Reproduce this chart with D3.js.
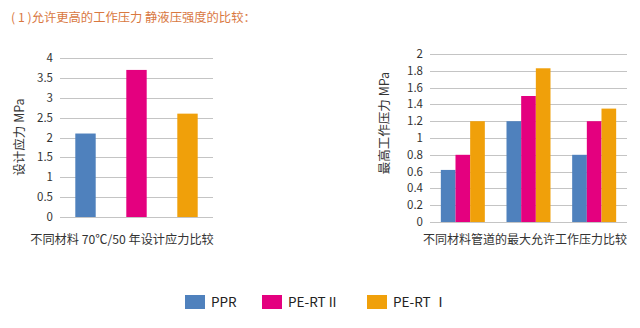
<!DOCTYPE html>
<html>
<head>
<meta charset="utf-8">
<script src="https://cdn.jsdelivr.net/npm/d3@7"></script>
<style>
  html, body { margin: 0; padding: 0; background: #fff; }
  svg { display: block; }
  text { font-family: "Noto Sans CJK SC", "DejaVu Sans", sans-serif; }
</style>
</head>
<body>
<svg id="chart" width="640" height="328"></svg>
<script>
// Series names and colours
const seriesNames = ["PPR", "PE-RT II", "PE-RT Ⅰ"];
const seriesColors = ["#4f81bd", "#e4007f", "#f0a00a"];

// Left chart: design stress at 70°C / 50 years (MPa)
const stressValues = [2.1, 3.7, 2.6];
const stressTicks = [0, 0.5, 1, 1.5, 2, 2.5, 3, 3.5, 4];

// Right chart: maximum allowed working pressure (MPa), three pipe groups
const pressureGroups = ["g1", "g2", "g3"];
const pressurePPR = [0.62, 1.2, 0.8];
const pressurePERT2 = [0.8, 1.5, 1.2];
const pressurePERT1 = [1.2, 1.83, 1.35];
const pressureTicks = [0, 0.2, 0.4, 0.6, 0.8, 1, 1.2, 1.4, 1.6, 1.8, 2];

const svg = d3.select("#chart");

// Heading
svg.append("text")
  .attr("x", 11).attr("y", 22)
  .attr("font-size", 12.3)
  .attr("fill", "#d9783f")
  .attr("xml:space", "preserve")
  .style("white-space", "pre")
  .text("( 1 )允许更高的工作压力 静液压强度的比较：");

function gridAxis(g, y, ticks, x0, x1, fmt) {
  g.selectAll("line.grid").data(ticks).join("line")
    .attr("class", "grid")
    .attr("x1", x0).attr("x2", x1)
    .attr("y1", d => Math.round(y(d)) + 0.5).attr("y2", d => Math.round(y(d)) + 0.5)
    .attr("stroke", "#c4c4c4").attr("stroke-width", 1);
  g.selectAll("text.tick").data(ticks).join("text")
    .attr("class", "tick")
    .attr("x", x0 - 7).attr("y", d => y(d))
    .attr("dy", "0.35em")
    .attr("text-anchor", "end")
    .attr("font-size", 11.5)
    .attr("fill", "#333")
    .attr("font-family", "Liberation Sans, Arial, sans-serif")
    .text(fmt);
}

// ---- Left chart ----
{
  const g = svg.append("g");
  const x = d3.scaleBand().domain(seriesNames).range([60, 213]).paddingInner(0.6).paddingOuter(0.3);
  const y = d3.scaleLinear().domain([0, 4]).range([217, 58]);
  gridAxis(g, y, stressTicks, 60, 213, d => d);
  g.selectAll("rect").data(stressValues).join("rect")
    .attr("x", (d, i) => x(seriesNames[i]))
    .attr("width", x.bandwidth())
    .attr("y", d => y(d))
    .attr("height", d => y(0) - y(d))
    .attr("fill", (d, i) => seriesColors[i]);
  g.append("text")
    .attr("transform", "translate(24,137) rotate(-90)")
    .attr("text-anchor", "middle")
    .attr("font-size", 12.5).attr("fill", "#333")
    .text("设计应力 MPa");
  g.append("text")
    .attr("x", 122).attr("y", 244)
    .attr("text-anchor", "middle")
    .attr("font-size", 12.2).attr("fill", "#333")
    .text("不同材料 70℃/50 年设计应力比较");
}

// ---- Right chart ----
{
  const g = svg.append("g");
  const x0 = d3.scaleBand().domain(pressureGroups).range([430, 627]).paddingInner(0.33).paddingOuter(0.165);
  const x1 = d3.scaleBand().domain(seriesNames).range([0, x0.bandwidth()]);
  const y = d3.scaleLinear().domain([0, 2]).range([222, 54]);
  gridAxis(g, y, pressureTicks, 430, 627, d => d);
  const series = [pressurePPR, pressurePERT2, pressurePERT1];
  pressureGroups.forEach((grp, gi) => {
    g.selectAll(null).data(series).join("rect")
      .attr("x", (s, si) => x0(grp) + x1(seriesNames[si]))
      .attr("width", x1.bandwidth())
      .attr("y", s => y(s[gi]))
      .attr("height", s => y(0) - y(s[gi]))
      .attr("fill", (s, si) => seriesColors[si]);
  });
  g.append("text")
    .attr("transform", "translate(389,123) rotate(-90)")
    .attr("text-anchor", "middle")
    .attr("font-size", 12.5).attr("fill", "#333")
    .text("最高工作压力 MPa");
  g.append("text")
    .attr("x", 525).attr("y", 244)
    .attr("text-anchor", "middle")
    .attr("font-size", 12).attr("fill", "#333")
    .text("不同材料管道的最大允许工作压力比较");
}

// ---- Legend ----
{
  const legendX = [185, 262, 367];
  const lg = svg.append("g");
  const item = lg.selectAll("g").data(seriesNames).join("g")
    .attr("transform", (d, i) => `translate(${legendX[i]},295)`);
  item.append("rect").attr("width", 20).attr("height", 14)
    .attr("fill", (d, i) => seriesColors[i]);
  item.append("text").attr("x", 26).attr("y", 12)
    .attr("font-size", 13.5).attr("fill", "#222")
    .attr("font-family", "Liberation Sans Narrow, DejaVu Sans Condensed, sans-serif")
    .text(d => d);
}
</script>
</body>
</html>
